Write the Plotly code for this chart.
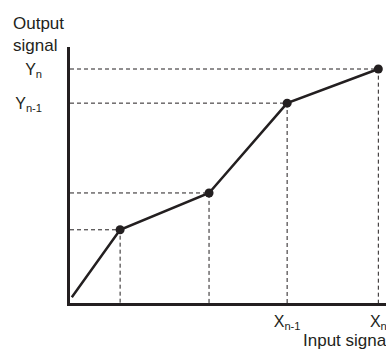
import plotly.graph_objects as go

# breakpoints of the piecewise-linear transfer curve
x_pts = [0.04, 1.11, 3.08, 4.81, 6.83]
y_pts = [0.13, 1.63, 2.45, 4.45, 5.21]

x_tickvals = [4.81, 6.83]
x_ticktext = ["X<sub>n-1</sub>", "X<sub>n</sub>"]
y_tickvals = [5.21, 4.45]
y_ticktext = ["Y<sub>n</sub>", "Y<sub>n-1</sub>"]

ink = "#231f20"
fig = go.Figure()

# dashed guide lines from each breakpoint to the axes
for xv, yv in zip(x_pts[1:], y_pts[1:]):
    fig.add_trace(go.Scatter(
        x=[0, xv, xv], y=[yv, yv, 0],
        mode="lines",
        line=dict(color=ink, width=1, dash="4px,3px"),
        hoverinfo="skip",
    ))

fig.add_trace(go.Scatter(
    x=x_pts, y=y_pts,
    mode="lines",
    line=dict(color=ink, width=2.5),
))
fig.add_trace(go.Scatter(
    x=x_pts[1:], y=y_pts[1:],
    mode="markers",
    marker=dict(color=ink, size=9),
    cliponaxis=False,
))

fig.update_layout(
    width=386, height=349,
    margin=dict(l=70, r=0, t=47, b=46),
    showlegend=False,
    plot_bgcolor="white", paper_bgcolor="white",
    font=dict(family="Liberation Sans, Arial, sans-serif", color=ink),
    xaxis=dict(
        range=[0, 7], showgrid=False, zeroline=False,
        showline=True, linecolor=ink, linewidth=2.5,
        tickvals=x_tickvals, ticktext=x_ticktext, ticks="",
        tickfont=dict(size=16), ticklabelstandoff=2,
        ticklabeloverflow="allow",
    ),
    yaxis=dict(
        range=[0, 5.7], showgrid=False, zeroline=False,
        showline=True, linecolor=ink, linewidth=2.5,
        tickvals=y_tickvals, ticktext=y_ticktext, ticks="",
        tickfont=dict(size=16), ticklabelstandoff=22,
    ),
    annotations=[
        dict(text="Output<br>signal", xref="paper", yref="paper",
             x=-0.187, y=1.137, xanchor="left", yanchor="top",
             showarrow=False, align="left", font=dict(size=17)),
        dict(text="Input signal", xref="paper", yref="paper",
             x=0.731, y=-0.148, xanchor="left", yanchor="middle",
             showarrow=False, font=dict(size=17)),
    ],
)

fig.write_html("out.html", config={"displayModeBar": False},
               post_script="document.body.style.margin='0';")
